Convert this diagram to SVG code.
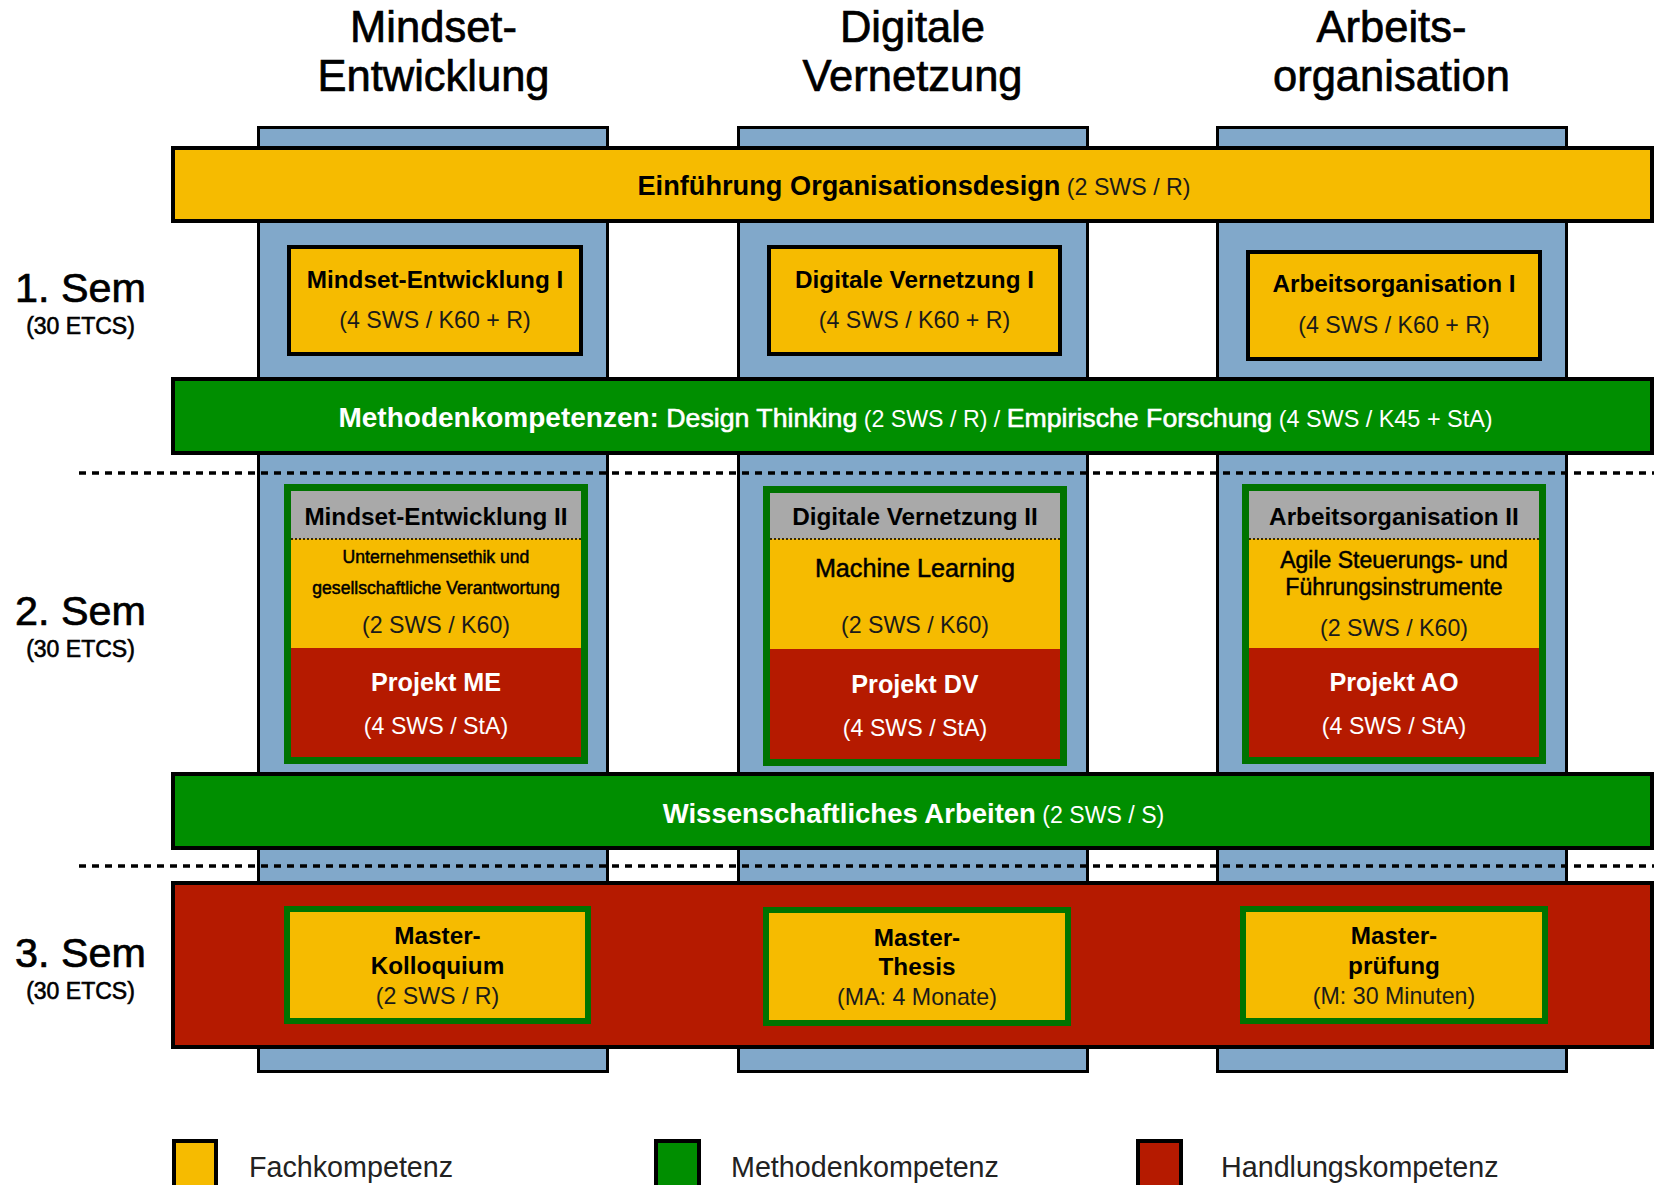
<svg xmlns="http://www.w3.org/2000/svg" width="1654" height="1185" viewBox="0 0 1654 1185">
<style>
text{font-family:"Liberation Sans",Arial,Helvetica,sans-serif;fill:#000;}
.col{fill:#81A8CA;stroke:#000;stroke-width:3}
.bar{stroke:#000;stroke-width:4}
.y{fill:#F6BB00}
.g{fill:#008E00}
.r{fill:#B51A00}
.gf{fill:#007300}
.gray{fill:#A9A9A9}
.box{fill:#F6BB00;stroke:#000;stroke-width:4}
.dash{stroke:#000;stroke-width:3.5;stroke-dasharray:7 6;fill:none}
.dot{stroke:#3a2a00;stroke-width:2;stroke-dasharray:2 2;fill:none}
.c{text-anchor:middle}
.b{font-weight:700}
.hdr{font-size:43.5px;text-anchor:middle;stroke:#000;stroke-width:.7}
.sem{font-size:41.3px;text-anchor:middle;stroke:#000;stroke-width:.7}
.ects{font-size:23px;text-anchor:middle;stroke:#000;stroke-width:.6}
.t24{font-size:24.3px;font-weight:700}
.lt{font-size:23.2px;fill:#1a1a1a}
.w{fill:#fff}
.medw{stroke:#fff;stroke-width:.6}
.medk{stroke:#000;stroke-width:.5}
.leg{font-size:28.7px;fill:#222}
.lsq{stroke:#000;stroke-width:4}
</style>

<g id="headers">
  <text class="hdr" x="433.5" y="42">Mindset-</text>
  <text class="hdr" x="433.5" y="91">Entwicklung</text>
  <text class="hdr" x="912.5" y="42">Digitale</text>
  <text class="hdr" x="912.5" y="91">Vernetzung</text>
  <text class="hdr" x="1391.5" y="42">Arbeits-</text>
  <text class="hdr" x="1391.5" y="91">organisation</text>
</g>

<g id="semesters">
  <text class="sem" x="80.5" y="302">1. Sem</text>
  <text class="ects" x="80.5" y="334">(30 ETCS)</text>
  <text class="sem" x="80.5" y="625">2. Sem</text>
  <text class="ects" x="80.5" y="657">(30 ETCS)</text>
  <text class="sem" x="80.5" y="967">3. Sem</text>
  <text class="ects" x="80.5" y="999">(30 ETCS)</text>
</g>

<g id="columns">
  <rect id="col-me" class="col" x="258.5" y="127.5" width="349" height="944"/>
  <rect id="col-dv" class="col" x="738.5" y="127.5" width="349" height="944"/>
  <rect id="col-ao" class="col" x="1217.5" y="127.5" width="349" height="944"/>
</g>

<g id="bar-einfuehrung">
  <rect class="bar y" x="173" y="148" width="1479" height="73"/>
  <text x="914" y="195" class="c"><tspan class="b" font-size="27.2">Einführung Organisationsdesign</tspan><tspan class="lt" font-size="22.7"> (2 SWS / R)</tspan></text>
</g>

<g id="me1">
  <rect class="box" x="289" y="247" width="292" height="107"/>
  <text class="c t24" x="435" y="288">Mindset-Entwicklung I</text>
  <text class="c lt" x="435" y="328">(4 SWS / K60 + R)</text>
</g>
<g id="dv1">
  <rect class="box" x="769" y="247" width="291" height="107"/>
  <text class="c t24" x="914.5" y="288">Digitale Vernetzung I</text>
  <text class="c lt" x="914.5" y="328">(4 SWS / K60 + R)</text>
</g>
<g id="ao1">
  <rect class="box" x="1248" y="252" width="292" height="107"/>
  <text class="c t24" x="1394" y="292">Arbeitsorganisation I</text>
  <text class="c lt" x="1394" y="333">(4 SWS / K60 + R)</text>
</g>

<g id="bar-methoden">
  <rect class="bar g" x="173" y="379" width="1479" height="74"/>
  <text x="915.5" y="427" class="c w"><tspan class="b" font-size="28">Methodenkompetenzen:</tspan><tspan font-size="26.7"> </tspan><tspan class="medw" font-size="26.7">Design Thinking</tspan><tspan font-size="23.2"> (2 SWS / R) / </tspan><tspan class="medw" font-size="26.7">Empirische Forschung</tspan><tspan font-size="23.4"> (4 SWS / K45 + StA)</tspan></text>
</g>

<g id="separators">
  <line class="dash" x1="79" y1="473" x2="1654" y2="473"/>
  <line class="dash" x1="79" y1="866" x2="1654" y2="866"/>
</g>

<g id="me2">
  <rect class="gf" x="284" y="484" width="304" height="280"/>
  <rect class="gray" x="291" y="491" width="290" height="48"/>
  <rect class="y" x="291" y="539" width="290" height="109"/>
  <rect class="r" x="291" y="648" width="290" height="109"/>
  <line class="dot" x1="291" y1="539" x2="581" y2="539"/>
  <text class="c t24" x="436" y="525">Mindset-Entwicklung II</text>
  <text class="c medk" x="436" y="563" font-size="17.6">Unternehmensethik und</text>
  <text class="c medk" x="436" y="594" font-size="17.6">gesellschaftliche Verantwortung</text>
  <text class="c lt" x="436" y="633">(2 SWS / K60)</text>
  <text class="c b w" x="436" y="691" font-size="25.2">Projekt ME</text>
  <text class="c lt w" x="436" y="734" style="fill:#fff">(4 SWS / StA)</text>
</g>
<g id="dv2">
  <rect class="gf" x="763" y="486" width="304" height="280"/>
  <rect class="gray" x="770" y="493" width="290" height="46"/>
  <rect class="y" x="770" y="539" width="290" height="110"/>
  <rect class="r" x="770" y="649" width="290" height="110"/>
  <line class="dot" x1="770" y1="539" x2="1060" y2="539"/>
  <text class="c t24" x="915" y="525">Digitale Vernetzung II</text>
  <text class="c medk" x="915" y="577" font-size="25.2">Machine Learning</text>
  <text class="c lt" x="915" y="633">(2 SWS / K60)</text>
  <text class="c b w" x="915" y="693" font-size="25.2">Projekt DV</text>
  <text class="c lt w" x="915" y="736" style="fill:#fff">(4 SWS / StA)</text>
</g>
<g id="ao2">
  <rect class="gf" x="1242" y="484" width="304" height="280"/>
  <rect class="gray" x="1249" y="491" width="290" height="48"/>
  <rect class="y" x="1249" y="539" width="290" height="109"/>
  <rect class="r" x="1249" y="648" width="290" height="109"/>
  <line class="dot" x1="1249" y1="539" x2="1539" y2="539"/>
  <text class="c t24" x="1394" y="525">Arbeitsorganisation II</text>
  <text class="c medk" x="1394" y="568" font-size="23">Agile Steuerungs- und</text>
  <text class="c medk" x="1394" y="595" font-size="23">Führungsinstrumente</text>
  <text class="c lt" x="1394" y="636">(2 SWS / K60)</text>
  <text class="c b w" x="1394" y="691" font-size="25.2">Projekt AO</text>
  <text class="c lt w" x="1394" y="734" style="fill:#fff">(4 SWS / StA)</text>
</g>

<g id="bar-wiss">
  <rect class="bar g" x="173" y="774" width="1479" height="74"/>
  <text x="913.5" y="823" class="c w"><tspan class="b" font-size="27.5">Wissenschaftliches Arbeiten</tspan><tspan font-size="23.1"> (2 SWS / S)</tspan></text>
</g>

<g id="bar-sem3">
  <rect class="bar r" x="173" y="883" width="1479" height="164"/>
</g>

<g id="kolloquium">
  <rect class="gf" x="284" y="906" width="307" height="118"/>
  <rect class="y" x="290" y="912" width="295" height="106"/>
  <text class="c t24" x="437.5" y="944">Master-</text>
  <text class="c t24" x="437.5" y="974">Kolloquium</text>
  <text class="c lt" x="437.5" y="1004">(2 SWS / R)</text>
</g>
<g id="thesis">
  <rect class="gf" x="763" y="907" width="308" height="119"/>
  <rect class="y" x="769" y="913" width="296" height="107"/>
  <text class="c t24" x="917" y="946">Master-</text>
  <text class="c t24" x="917" y="975">Thesis</text>
  <text class="c lt" x="917" y="1005">(MA: 4 Monate)</text>
</g>
<g id="pruefung">
  <rect class="gf" x="1240" y="906" width="308" height="118"/>
  <rect class="y" x="1246" y="912" width="296" height="106"/>
  <text class="c t24" x="1394" y="944">Master-</text>
  <text class="c t24" x="1394" y="974">prüfung</text>
  <text class="c lt" x="1394" y="1004">(M: 30 Minuten)</text>
</g>

<g id="legend">
  <rect class="lsq y" x="174" y="1141" width="42" height="60"/>
  <text class="leg" x="249" y="1177">Fachkompetenz</text>
  <rect class="lsq g" x="656" y="1141" width="43" height="60"/>
  <text class="leg" x="731" y="1177">Methodenkompetenz</text>
  <rect class="lsq r" x="1138" y="1141" width="43" height="60"/>
  <text class="leg" x="1221" y="1177">Handlungskompetenz</text>
</g>
</svg>
